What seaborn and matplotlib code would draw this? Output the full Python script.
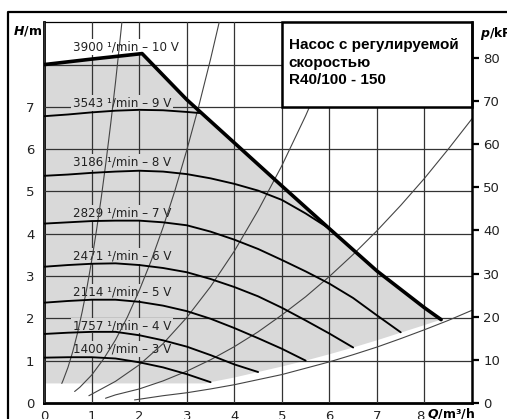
import numpy as np
import pandas as pd
import matplotlib
matplotlib.use("Agg")
import matplotlib.pyplot as plt
import seaborn as sns
from matplotlib.patches import Rectangle
from matplotlib.lines import Line2D

# ---------------- data ----------------
# maximum curve 10 V (3900 1/min)
q_10v = [0, 1.0, 2.06, 3.0, 4.0, 5.0, 6.0, 7.0, 8.0, 8.35]
h_10v = [8.0, 8.13, 8.26, 7.17, 6.15, 5.13, 4.12, 3.12, 2.25, 1.97]

q_9v = [0, 0.5, 1.0, 1.5, 2.0, 2.5, 3.0, 3.31]
h_9v = [6.78, 6.82, 6.87, 6.91, 6.93, 6.92, 6.88, 6.85]

q_8v = [0, 0.5, 1.0, 1.5, 2.0, 2.5, 3.0, 3.5, 4.0, 4.5, 5.0, 5.5, 6.0, 6.1]
h_8v = [5.37, 5.40, 5.44, 5.47, 5.49, 5.47, 5.41, 5.31, 5.18, 5.02, 4.80, 4.48, 4.12, 4.03]

q_7v = [0, 0.5, 1.0, 1.5, 2.0, 2.5, 3.0, 3.5, 4.0, 4.5, 5.0, 5.5, 6.0, 6.5, 7.0, 7.5]
h_7v = [4.24, 4.27, 4.30, 4.31, 4.31, 4.27, 4.20, 4.05, 3.86, 3.64, 3.38, 3.11, 2.82, 2.48, 2.07, 1.67]

q_6v = [0, 0.5, 1.0, 1.5, 2.0, 2.5, 3.0, 3.5, 4.0, 4.5, 5.0, 5.5, 6.0, 6.5]
h_6v = [3.22, 3.26, 3.29, 3.30, 3.26, 3.19, 3.09, 2.93, 2.74, 2.52, 2.25, 1.95, 1.64, 1.31]

q_5v = [0, 0.5, 1.0, 1.5, 2.0, 2.5, 3.0, 3.5, 4.0, 4.5, 5.0, 5.5]
h_5v = [2.37, 2.41, 2.44, 2.44, 2.39, 2.30, 2.17, 1.99, 1.77, 1.53, 1.28, 1.00]

q_4v = [0, 0.5, 1.0, 1.5, 2.0, 2.5, 3.0, 3.5, 4.0, 4.5]
h_4v = [1.63, 1.66, 1.68, 1.68, 1.60, 1.48, 1.33, 1.13, 0.91, 0.73]

q_3v = [0, 0.5, 1.0, 1.5, 2.0, 2.5, 3.0, 3.5]
h_3v = [1.07, 1.08, 1.08, 1.05, 0.96, 0.84, 0.68, 0.49]

# lower limit of the shaded operating range
q_low = [0, 3.4, 3.5, 4.0, 4.5, 5.0, 5.5, 6.0, 6.5, 7.0, 7.5, 8.0, 8.35]
h_low = [0.46, 0.46, 0.49, 0.60, 0.73, 0.86, 1.00, 1.15, 1.31, 1.48, 1.66, 1.84, 1.97]

# thin system curves
q_sa = [0.37, 0.4, 0.5, 0.6, 0.7, 0.8, 0.9, 1.0, 1.1, 1.2, 1.3, 1.4, 1.5, 1.6, 1.65]
h_sa = [0.46, 0.54, 0.84, 1.21, 1.65, 2.16, 2.73, 3.37, 4.08, 4.85, 5.70, 6.61, 7.58, 8.63, 9.17]
q_sb = [0.64, 0.75, 1.0, 1.25, 1.5, 1.75, 2.0, 2.25, 2.5, 2.75, 3.0, 3.25, 3.5, 3.7]
h_sb = [0.27, 0.37, 0.66, 1.04, 1.49, 2.03, 2.66, 3.36, 4.15, 5.02, 5.98, 7.01, 8.13, 9.09]
q_sc = [0.94, 1.5, 2.0, 2.5, 3.0, 3.5, 4.0, 4.5, 5.0, 5.5, 6.0, 6.35]
h_sc = [0.17, 0.51, 0.90, 1.40, 2.02, 2.75, 3.59, 4.55, 5.61, 6.79, 8.08, 9.05]
q_sd = [1.29, 1.5, 2.0, 2.5, 3.0, 3.5, 4.0, 4.5, 5.0, 5.5, 6.0, 6.5, 7.0, 7.5, 8.0, 8.5, 9.0]
h_sd = [0.11, 0.19, 0.33, 0.52, 0.75, 1.02, 1.33, 1.68, 2.08, 2.51, 2.99, 3.51, 4.07, 4.67, 5.31, 6.00, 6.72]
q_se = [1.9, 2.5, 3.0, 3.5, 4.0, 4.5, 5.0, 5.5, 6.0, 6.5, 7.0, 7.5, 8.0, 8.5, 9.0]
h_se = [0.07, 0.17, 0.24, 0.33, 0.43, 0.55, 0.67, 0.82, 0.97, 1.14, 1.32, 1.52, 1.73, 1.95, 2.19]

curve_labels = ["3900 \u00b9/min \u2013 10 V", "3543 \u00b9/min \u2013 9 V",
                "3186 \u00b9/min \u2013 8 V", "2829 \u00b9/min \u2013 7 V",
                "2471 \u00b9/min \u2013 6 V", "2114 \u00b9/min \u2013 5 V",
                "1757 \u00b9/min \u2013 4 V", "1400 \u00b9/min \u2013 3 V"]
label_h = [8.42, 7.10, 5.69, 4.50, 3.48, 2.63, 1.83, 1.28]

x_ticks = [0, 1, 2, 3, 4, 5, 6, 7, 8]
x_ticklabels = ["0", "1", "2", "3", "4", "5", "6", "7", "8"]
y_ticks = [0, 1, 2, 3, 4, 5, 6, 7, 8]
y_ticklabels = ["0", "1", "2", "3", "4", "5", "6", "7", ""]
p_ticks = [0, 10, 20, 30, 40, 50, 60, 70, 80]

title_lines = ["Насос с регулируемой", "скоростью", "R40/100 - 150"]

# ---------------- build tables ----------------
pump = pd.concat([
    pd.DataFrame({"Q": q, "H": h, "curve": name})
    for name, q, h in [("9V", q_9v, h_9v), ("8V", q_8v, h_8v), ("7V", q_7v, h_7v),
                       ("6V", q_6v, h_6v), ("5V", q_5v, h_5v), ("4V", q_4v, h_4v),
                       ("3V", q_3v, h_3v)]
], ignore_index=True)
system = pd.concat([
    pd.DataFrame({"Q": q, "H": h, "curve": name})
    for name, q, h in [("A", q_sa, h_sa), ("B", q_sb, h_sb), ("C", q_sc, h_sc),
                       ("D", q_sd, h_sd), ("E", q_se, h_se)]
], ignore_index=True)
maxc = pd.DataFrame({"Q": q_10v, "H": h_10v})

# ---------------- figure ----------------
sns.set_theme(style="white")
plt.rcParams["font.family"] = ["DejaVu Sans"]
plt.rcParams["mathtext.fontset"] = "dejavusans"

W, H = 507, 419
fig = plt.figure(figsize=(W / 100, H / 100), dpi=100)
fig.patch.set_facecolor("white")
x0, x1, y0, y1 = 44.2, 472.0, 402.9, 22.3
ax = fig.add_axes([x0 / W, 1 - y0 / H, (x1 - x0) / W, (y0 - y1) / H])
ax.set_xlim(0, 9)
ax.set_ylim(0, 9)

GRAY = "#d9d9d9"
poly_q = np.r_[q_10v, q_low[::-1]]
poly_h = np.r_[h_10v, h_low[::-1]]
ax.fill(poly_q, poly_h, color=GRAY, lw=0, zorder=1)

ax.set_axisbelow(False)
ax.grid(True, color="#333333", lw=0.9)

# labels on the curves
for txt, hy in zip(curve_labels, label_h):
    fc = "white" if hy > 8.3 else GRAY
    ax.text(0.6, hy, txt, ha="left", va="center", fontsize=8.6, color="#222222",
            zorder=3, bbox=dict(boxstyle="square,pad=0.12", fc=fc, ec="none"))

sns.lineplot(data=system, x="Q", y="H", units="curve", estimator=None, sort=False,
             color="#444444", lw=0.8, ax=ax, zorder=3.5, legend=False)
sns.lineplot(data=pump, x="Q", y="H", units="curve", estimator=None, sort=False,
             color="black", lw=1.35, ax=ax, zorder=4, legend=False)
sns.lineplot(data=maxc, x="Q", y="H", sort=False, estimator=None,
             color="black", lw=2.6, ax=ax, zorder=4.5, legend=False)
ax.set_xlabel("")
ax.set_ylabel("")
ax.set_xlim(0, 9)
ax.set_ylim(0, 9)

ax.set_xticks(x_ticks, labels=x_ticklabels)
ax.set_yticks(y_ticks, labels=y_ticklabels)
ax.tick_params(axis="both", length=0, labelsize=9.5, labelcolor="#222222")
ax.tick_params(axis="y", pad=7)
ax.tick_params(axis="x", pad=5)
for lab in ax.get_xticklabels():
    if lab.get_text() == "8":
        lab.set_horizontalalignment("right")

for s in ["left", "bottom"]:
    ax.spines[s].set_color("black")
    ax.spines[s].set_linewidth(2.0)
ax.spines["top"].set_color("black")
ax.spines["top"].set_linewidth(0.9)
ax.spines["right"].set_visible(False)

# title box
ax.add_patch(Rectangle((5, 7), 4, 2, facecolor="white", edgecolor="black",
                       lw=1.8, zorder=6, clip_on=False))
for line, hb in zip(title_lines, [8.36, 7.95, 7.54]):
    ax.text(5.14, hb, line, ha="left", va="baseline", fontsize=11,
            fontweight="bold", family=["Liberation Sans", "DejaVu Sans"],
            color="black", zorder=7)

# right pressure axis
ax2 = ax.twinx()
ax2.set_ylim(0, 9 * 9.81)
ax2.set_yticks(p_ticks)
ax2.tick_params(axis="y", direction="out", length=5, width=1.6, color="black",
                labelsize=9.5, labelcolor="#222222", pad=3)
for s in ["left", "bottom", "top"]:
    ax2.spines[s].set_visible(False)
ax2.spines["right"].set_color("black")
ax2.spines["right"].set_linewidth(1.8)
ax2.grid(False)

# axis titles
fig.text(12.7 / W, 1 - 30.5 / H, r"$\mathbfit{H}$/m", ha="left", va="center",
         fontsize=9, fontweight="bold", color="black")
fig.text(480 / W, 1 - 33 / H, r"$\mathbfit{p}$/kPa", ha="left", va="center",
         fontsize=9, fontweight="bold", color="black")
fig.text(427 / W, 1 - 413 / H, r"$\mathbfit{Q}$/m³/h", ha="left", va="center",
         fontsize=9, fontweight="bold", color="black")

# outer frame
fig.add_artist(Line2D([8 / W, 8 / W, 1.02], [-0.02, 1 - 12 / H, 1 - 12 / H],
                      transform=fig.transFigure, color="black", lw=1.6))

fig.savefig("out.png", dpi=100, facecolor="white")
